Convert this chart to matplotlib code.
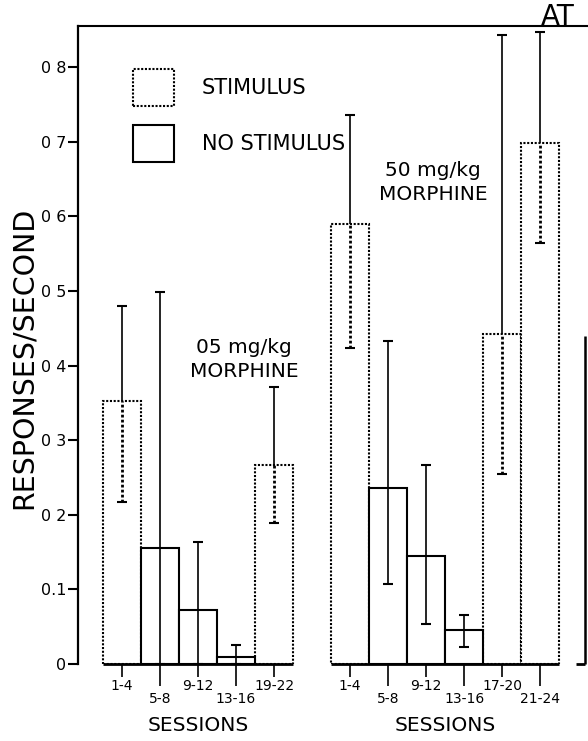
import matplotlib

matplotlib.use("Agg")
import matplotlib.pyplot as plt
from matplotlib.patches import Patch
from matplotlib.transforms import blended_transform_factory

# 0.5 mg/kg morphine panel
low_sessions = ["1-4", "5-8", "9-12", "13-16", "19-22"]
low_mean = [0.353, 0.155, 0.072, 0.009, 0.267]
low_hi = [0.480, 0.499, 0.164, 0.026, 0.371]
low_lo = [0.217, 0.0, 0.0, 0.0, 0.189]
low_stim = [True, False, False, False, True]

# 5.0 mg/kg morphine panel
high_sessions = ["1-4", "5-8", "9-12", "13-16", "17-20", "21-24"]
high_mean = [0.589, 0.236, 0.145, 0.045, 0.442, 0.698]
high_hi = [0.736, 0.433, 0.267, 0.065, 0.843, 0.847]
high_lo = [0.424, 0.107, 0.053, 0.023, 0.255, 0.564]
high_stim = [True, False, False, False, True, True]

yticks = [0, 0.1, 0.2, 0.3, 0.4, 0.5, 0.6, 0.7, 0.8]
ytick_labels = ["0", "0.1", "0 2", "0 3", "0 4", "0 5", "0 6", "0 7", "0 8"]

plt.rcParams["font.family"] = ["DejaVu Sans"]
DOT = (0, (1, 0.8))

low_x = list(range(len(low_mean)))
high_x = [len(low_mean) + 1 + i for i in range(len(high_mean))]

xs = low_x + high_x
means = low_mean + high_mean
his = low_hi + high_hi
los = low_lo + high_lo
stims = low_stim + high_stim
labels = low_sessions + high_sessions
rows = [i % 2 for i in range(len(low_x))] + [i % 2 for i in range(len(high_x))]

fig = plt.figure(figsize=(5.88, 7.41), dpi=100)
ax = fig.add_axes([78 / 588, 77 / 741, 510 / 588, 638 / 741])

for x, m, s in zip(xs, means, stims):
    ax.bar(x, m, width=1.0, color="white", edgecolor="black", linewidth=1.5,
           linestyle=DOT if s else "-", zorder=2 if s else 3)

for x, m, lo, hi, s in zip(xs, means, los, his, stims):
    ax.vlines(x, m, hi, color="black", lw=1.2, zorder=4)
    ax.vlines(x, lo, m, color="black", lw=2.0 if s else 1.2,
              linestyles=[DOT] if s else "solid", zorder=4)
ax.plot(xs, his, ls="none", marker="_", ms=7, mew=1.5, color="black", zorder=5)
ax.plot(xs, los, ls="none", marker="_", ms=7, mew=1.5, color="black", zorder=5,
        clip_on=False)

# baselines under each panel, plus the edge of the next panel
ax.hlines(0, low_x[0] - 0.5, low_x[-1] + 0.5, color="black", lw=2, clip_on=False, zorder=6)
ax.hlines(0, high_x[0] - 0.5, high_x[-1] + 0.5, color="black", lw=2, clip_on=False, zorder=6)
ax.vlines(12.18, 0, 0.44, color="black", lw=1.8, clip_on=False)
ax.hlines(0, 11.93, 12.18, color="black", lw=2, clip_on=False)

ax.set_xlim(-1.152, 12.251)
ax.set_ylim(0, 0.855)

ax.set_xticks([x for x, r in zip(xs, rows) if r == 0],
              [l for l, r in zip(labels, rows) if r == 0])
ax.set_xticks([x for x, r in zip(xs, rows) if r == 1],
              [l for l, r in zip(labels, rows) if r == 1], minor=True)
ax.tick_params(axis="x", which="major", length=9, width=1.2, pad=2, labelsize=10)
ax.tick_params(axis="x", which="minor", length=16, width=1.2, pad=4.5, labelsize=10)

ax.set_yticks(yticks, ytick_labels)
ax.tick_params(axis="y", length=7, width=1.5, pad=1.5, labelsize=11.5)

ax.spines["right"].set_visible(False)
ax.spines["bottom"].set_visible(False)
ax.spines["left"].set_linewidth(1.6)
ax.spines["top"].set_linewidth(1.5)

ax.set_ylabel("RESPONSES/SECOND", fontsize=20.5, va="center")
ax.yaxis.set_label_coords(-0.106, 0.48)

tr = blended_transform_factory(ax.transData, ax.transAxes)
ax.text(2, -0.097, "SESSIONS", transform=tr, ha="center", va="center", fontsize=14.5)
ax.text(8.5, -0.097, "SESSIONS", transform=tr, ha="center", va="center", fontsize=14.5)
ax.text(11.46, 1.0 + 1 / 638, "AT", transform=tr, ha="center", va="baseline", fontsize=20)

ax.text(3.21, 0.408, "05 mg/kg\nMORPHINE", ha="center", va="center",
        fontsize=14.5, linespacing=1.35)
ax.text(8.18, 0.645, "50 mg/kg\nMORPHINE", ha="center", va="center",
        fontsize=14.5, linespacing=1.35)

handles = [Patch(facecolor="white", edgecolor="black", linestyle=DOT, linewidth=1.5),
           Patch(facecolor="white", edgecolor="black", linewidth=1.5)]
ax.legend(handles, ["STIMULUS", "NO STIMULUS"], loc="upper left",
          bbox_to_anchor=(133 / 588, 1 - 69 / 741), bbox_transform=fig.transFigure,
          frameon=False, borderpad=0, borderaxespad=0, handlelength=1.95,
          handleheight=2.35, labelspacing=0.9, handletextpad=1.35, fontsize=15)

fig.savefig("out.png", dpi=100)
